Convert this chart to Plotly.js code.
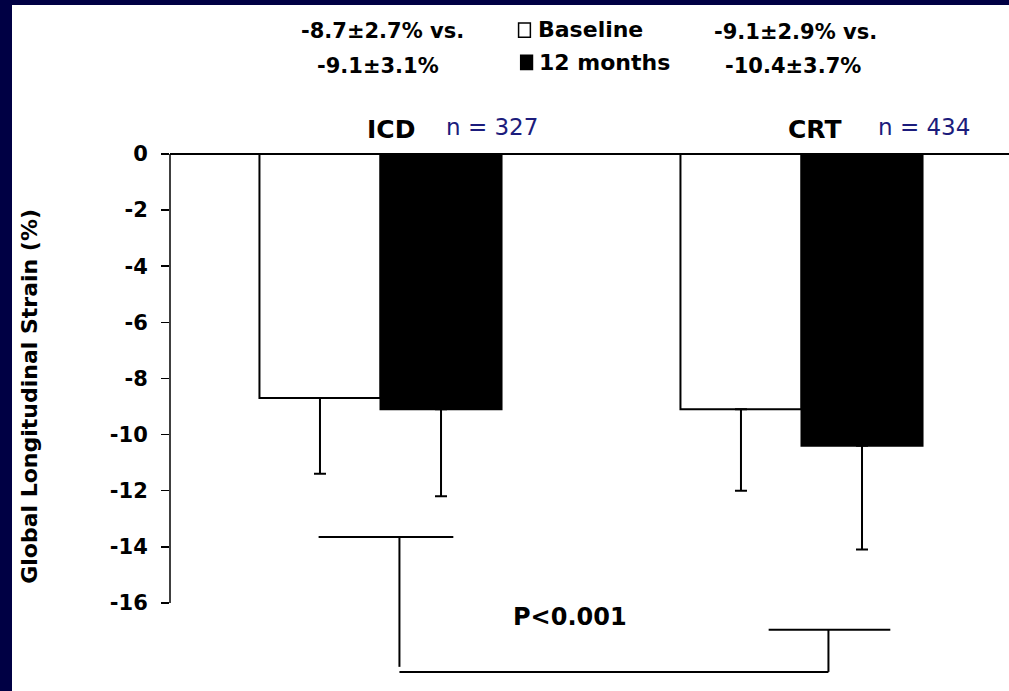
<!DOCTYPE html>
<html>
<head>
<meta charset="utf-8">
<script src="https://cdn.plot.ly/plotly-3.0.1.min.js"></script>
<style>
  html, body { margin: 0; padding: 0; width: 1009px; height: 691px; background: #000044; overflow: hidden; }
  #chart { position: absolute; left: 12px; top: 5px; width: 997px; height: 686px; background: #ffffff; }
</style>
</head>
<body>
<div id="chart"></div>
<script>
// ---- data ----
const categories = ['ICD', 'CRT'];
const groupN = ['n = 327', 'n = 434'];
const baseline = [-8.7, -9.1];
const baselineSD = [2.7, 2.9];
const months12 = [-9.1, -10.4];
const months12SD = [3.1, 3.7];
const seriesNames = ['Baseline', '12 months'];
const tickValues = [0, -2, -4, -6, -8, -10, -12, -14, -16];
const tickLabels = ['0', '-2', '-4', '-6', '-8', '-10', '-12', '-14', '-16'];
const summaryTop = ['-8.7±2.7% vs.', '-9.1±2.9% vs.'];
const summaryBottom = ['-9.1±3.1%', '-10.4±3.7%'];
const pText = 'P<0.001';
const yTitle = 'Global Longitudinal Strain (%)';

const BOLD = {family: 'DejaVu Sans, Arial, sans-serif', size: 21, color: '#000000', weight: 'bold'};
const bold = (s) => Object.assign({}, BOLD, {size: s});
const NAVY = {family: 'DejaVu Sans, Arial, sans-serif', size: 23, color: '#1c1c7c'};

const traces = [
  {
    type: 'bar', name: seriesNames[0], x: categories, y: baseline,
    marker: {color: '#ffffff', line: {color: '#000000', width: 2}},
    error_y: {type: 'data', symmetric: false, array: [0, 0], arrayminus: baselineSD,
              color: '#000000', thickness: 2, width: 6},
    hoverinfo: 'skip'
  },
  {
    type: 'bar', name: seriesNames[1], x: categories, y: months12,
    marker: {color: '#000000', line: {color: '#000000', width: 2}},
    error_y: {type: 'data', symmetric: false, array: [0, 0], arrayminus: months12SD,
              color: '#000000', thickness: 2, width: 6},
    hoverinfo: 'skip'
  }
];

const L = {color: '#000000', width: 2};
const shapes = [
  // y axis line from 0 to -16
  {type: 'line', xref: 'paper', yref: 'y', x0: 0, x1: 0, y0: 0, y1: -16, line: {color: '#000000', width: 1.5}},
  // significance bracket
  {type: 'line', xref: 'x', yref: 'y', x0: -0.147, x1: 0.173, y0: -13.65, y1: -13.65, line: L},
  {type: 'line', xref: 'x', yref: 'y', x0: 0.045, x1: 0.045, y0: -13.65, y1: -18.28, line: L},
  {type: 'line', xref: 'x', yref: 'y', x0: 0.045, x1: 1.064, y0: -18.46, y1: -18.46, line: L},
  {type: 'line', xref: 'x', yref: 'y', x0: 1.064, x1: 1.064, y0: -18.46, y1: -16.96, line: L},
  {type: 'line', xref: 'x', yref: 'y', x0: 0.922, x1: 1.211, y0: -16.96, y1: -16.96, line: L},
  // legend swatches
  {type: 'rect', xref: 'x', yref: 'paper', x0: 0.328, x1: 0.356, y0: 1.221, y1: 1.248,
   line: {color: '#000000', width: 1.5}, fillcolor: '#ffffff'},
  {type: 'rect', xref: 'x', yref: 'paper', x0: 0.333, x1: 0.361, y0: 1.160, y1: 1.187,
   line: {color: '#000000', width: 1.5}, fillcolor: '#000000'}
];

const A = (o) => Object.assign({showarrow: false, xanchor: 'center', yanchor: 'middle'}, o);
const annotations = [
  A({text: summaryTop[0], xref: 'x', yref: 'paper', x: 0.005, y: 1.233, font: bold(21)}),
  A({text: summaryBottom[0], xref: 'x', yref: 'paper', x: -0.007, y: 1.1667, font: bold(21)}),
  A({text: summaryTop[1], xref: 'x', yref: 'paper', x: 0.986, y: 1.231, font: bold(21)}),
  A({text: summaryBottom[1], xref: 'x', yref: 'paper', x: 0.979, y: 1.1667, font: bold(21)}),
  A({text: seriesNames[0], xref: 'x', yref: 'paper', x: 0.369, y: 1.235, xanchor: 'left', font: bold(22)}),
  A({text: seriesNames[1], xref: 'x', yref: 'paper', x: 0.371, y: 1.174, xanchor: 'left', font: bold(22)}),
  A({text: categories[0], xref: 'x', yref: 'paper', x: 0.026, y: 1.0455, font: bold(25)}),
  A({text: groupN[0], xref: 'x', yref: 'paper', x: 0.150, y: 1.051, xanchor: 'left', font: NAVY}),
  A({text: categories[1], xref: 'x', yref: 'paper', x: 1.031, y: 1.0455, font: bold(25)}),
  A({text: groupN[1], xref: 'x', yref: 'paper', x: 1.176, y: 1.051, xanchor: 'left', font: NAVY}),
  A({text: pText, xref: 'x', yref: 'y', x: 0.451, y: -16.5, font: bold(24)}),
  A({text: yTitle, xref: 'paper', yref: 'y', x: -0.1669, y: -8.62, textangle: -90, font: bold(22)})
];

const layout = {
  width: 997, height: 686,
  margin: {l: 158, r: 0, t: 149, b: 9},
  paper_bgcolor: '#ffffff', plot_bgcolor: '#ffffff',
  showlegend: false,
  barmode: 'group', bargap: 0.425, bargroupgap: 0,
  xaxis: {type: 'category', range: [-0.5, 1.4929], showticklabels: false, ticks: '',
          showline: false, showgrid: false, zeroline: false, fixedrange: true},
  yaxis: {range: [-18.82, 0], tickvals: tickValues, ticktext: tickLabels,
          ticks: 'outside', ticklen: 8, tickwidth: 1.5, tickcolor: '#000000',
          ticklabelstandoff: 9,
          tickfont: bold(21),
          showline: false, showgrid: false,
          zeroline: true, zerolinecolor: '#000000', zerolinewidth: 1.5, fixedrange: true},
  shapes: shapes,
  annotations: annotations
};

Plotly.newPlot('chart', traces, layout, {displayModeBar: false, staticPlot: true});
</script>
</body>
</html>
